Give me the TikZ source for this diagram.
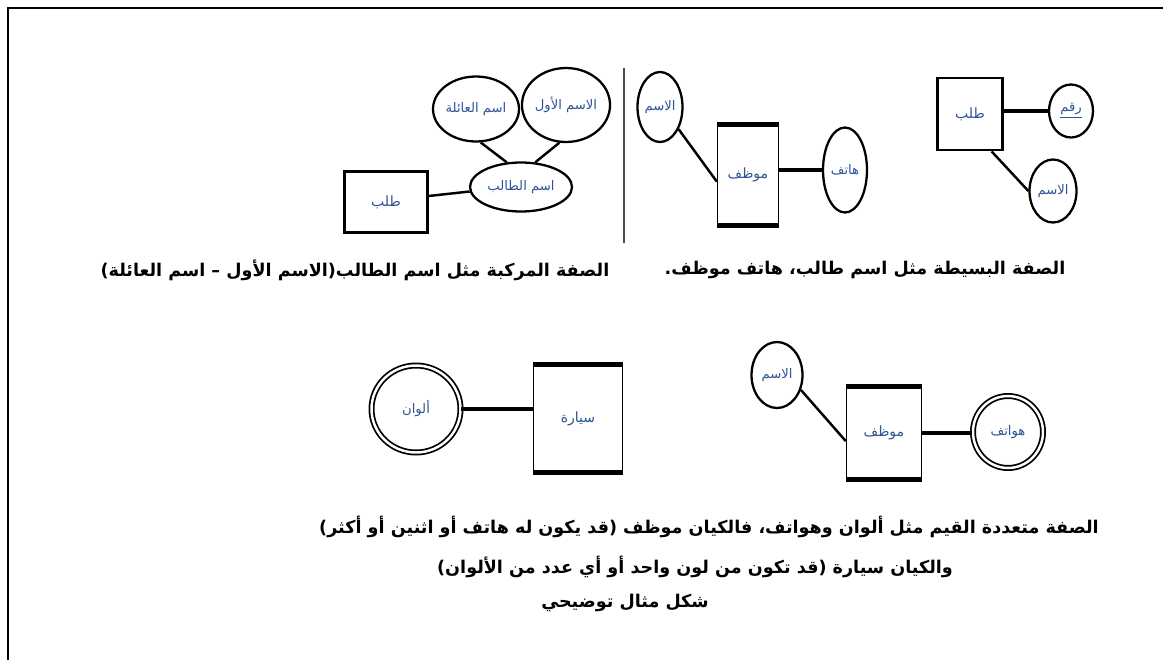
\documentclass[tikz,border=0pt]{standalone}
\usepackage{fontspec}
\usetikzlibrary{shapes.geometric, calc}
\newfontfamily\arabicfont[Script=Arabic]{DejaVu Sans}
\TeXXeTstate=1
\definecolor{LabelBlue}{RGB}{46, 84, 150}

\begin{document}
\begin{tikzpicture}[x=0.02cm, y=-0.02cm,
    entbox/.style={draw, line width=1.6pt, inner sep=0pt, font=\arabicfont\fontsize{8}{9}\selectfont, text=LabelBlue},
    attr/.style={ellipse, draw, line width=1.3pt, inner sep=0pt, font=\arabicfont\fontsize{7.5}{9}\selectfont, text=LabelBlue},
    multiattr/.style={attr, double, double distance=1.4pt, line width=1pt},
    link/.style={line width=1.4pt},
    heavylink/.style={line width=2.4pt},
    heavyedge/.style={line width=2.6pt},
    caption/.style={font=\arabicfont\bfseries\fontsize{10}{12}\selectfont, inner sep=0pt}]
  \useasboundingbox (0,0) rectangle (1163,660);
  \draw[line width=1.6pt] (8,660) -- (8,8) -- (1163,8);

  % simple attributes
  \node[entbox, minimum width=1.30cm, minimum height=1.44cm] (trEnt) at (970,114) {\beginR طلب\endR};
  \node[attr, minimum width=0.88cm, minimum height=1.06cm] (trKey) at (1071,111) {\underline{\beginR رقم\endR}};
  \node[attr, minimum width=0.94cm, minimum height=1.26cm] (trName) at (1053,191) {\beginR الاسم\endR};
  \draw[heavylink] (trKey.west -| trEnt.east) -- (trKey.west);
  \draw[link] (trEnt.-60) -- (trName.west);

  \node[attr, minimum width=0.90cm, minimum height=1.40cm] (tmName) at (660,107) {\beginR الاسم\endR};
  \node[entbox, line width=0.8pt, minimum width=1.22cm, minimum height=2.00cm] (tmEnt) at (748,175) {\beginR موظف\endR};
  \draw[heavyedge] (tmEnt.north west) -- (tmEnt.north east);
  \draw[heavyedge] (tmEnt.south west) -- (tmEnt.south east);
  \node[attr, minimum width=0.88cm, minimum height=1.70cm] (tmPhone) at (845,170) {\beginR هاتف\endR};
  \draw[link] (tmName.-50) -- (tmEnt.192);
  \draw[heavylink] (tmPhone.west -| tmEnt.east) -- (tmPhone.west);

  \coordinate (sepTop) at (624,68);
  \coordinate (sepBot) at (624,243);
  \draw[line width=0.8pt, black!70] (sepTop) -- (sepBot);

  % composite attribute
  \node[attr, minimum width=1.44cm, minimum height=1.30cm] (tlFamily) at (476,109) {\beginR اسم العائلة\endR};
  \node[attr, minimum width=1.46cm, minimum height=1.48cm] (tlFirst) at (566,105) {\beginR الاسم الأول\endR};
  \node[attr, minimum width=2.04cm, minimum height=0.98cm] (tlComp) at (521,187) {\beginR اسم الطالب\endR};
  \node[entbox, minimum width=1.66cm, minimum height=1.22cm] (tlEnt) at (386,202) {\beginR طلب\endR};
  \draw[link] (tlEnt.8) -- (tlComp.185);
  \draw[link] (tlComp.120) -- (tlFamily.-82);
  \draw[link] (tlComp.60) -- (tlFirst.-100);

  \node[caption] (capSimple) at (865,270) {\beginR الصفة البسيطة مثل اسم طالب، هاتف موظف.\endR};
  \node[caption] (capComp) at (355,270) {\beginR الصفة المركبة مثل اسم الطالب(الاسم الأول – اسم العائلة)\endR};

  % multivalued attributes
  \node[multiattr, minimum width=1.78cm, minimum height=1.74cm] (bmColors) at (416,409) {\beginR ألوان\endR};
  \node[entbox, line width=0.8pt, minimum width=1.78cm, minimum height=2.14cm] (bmCar) at (578,418.5) {\beginR سيارة\endR};
  \draw[heavyedge] (bmCar.north west) -- (bmCar.north east);
  \draw[heavyedge] (bmCar.south west) -- (bmCar.south east);
  \draw[heavylink] (bmColors.east) -- (bmColors.east -| bmCar.west);

  \node[attr, minimum width=1.02cm, minimum height=1.32cm] (brName) at (777,375) {\beginR الاسم\endR};
  \node[entbox, line width=0.8pt, minimum width=1.50cm, minimum height=1.84cm] (brEnt) at (884,433) {\beginR موظف\endR};
  \draw[heavyedge] (brEnt.north west) -- (brEnt.north east);
  \draw[heavyedge] (brEnt.south west) -- (brEnt.south east);
  \node[multiattr, minimum width=1.40cm, minimum height=1.44cm] (brPhones) at (1008,432) {\beginR هواتف\endR};
  \draw[link] (brName.-32) -- (brEnt.192);
  \draw[heavylink] (brEnt.east) -- (brEnt.east -| brPhones.west);

  \node[caption] (capMulti) at (709,527) {\beginR الصفة متعددة القيم مثل ألوان وهواتف، فالكيان موظف (قد يكون له هاتف أو اثنين أو أكثر)\endR};
  \node[caption] (capCar) at (695,567) {\beginR والكيان سيارة (قد تكون من لون واحد أو أي عدد من الألوان)\endR};
  \node[caption] (capFig) at (625,603) {\beginR شكل مثال توضيحي\endR};
\end{tikzpicture}
\end{document}
